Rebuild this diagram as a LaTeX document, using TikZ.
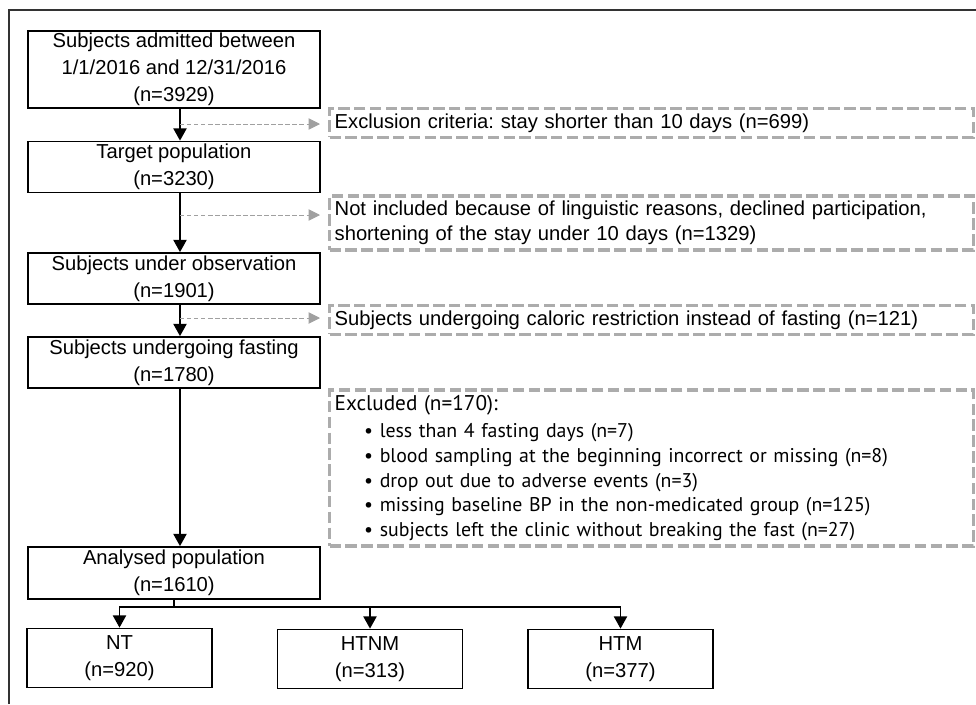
\documentclass[tikz,border=0pt]{standalone}
\usepackage{fontspec}
\setmainfont{Liberation Sans}
\newfontfamily\condfont{PT Sans}
\usetikzlibrary{arrows.meta}
\definecolor{exclgray}{RGB}{172,172,172}
\definecolor{arrgray}{RGB}{160,160,160}
\frenchspacing

\tikzset{
    box/.style={draw, line width=1pt, minimum width=5.84cm, align=center, inner sep=0pt,
        font=\fontsize{11.5}{15.4}\selectfont},
    grp/.style={box, minimum width=3.7cm, minimum height=1.18cm},
    excl/.style={draw=exclgray, line width=1.9pt, dash pattern=on 6.5pt off 2.5pt, anchor=west,
        text width=12.68cm, align=left, inner sep=0.1cm, font=\fontsize{11.5}{14.3}\selectfont},
    arr/.style={line width=1pt, -{Triangle[length=7pt,width=7.5pt]}},
    sidearr/.style={arrgray, line width=0.5pt, dash pattern=on 2.5pt off 1.5pt,
        -{Triangle[length=6.5pt,width=6.5pt]}, shorten >=0.16cm}
}

\begin{document}
\begin{tikzpicture}[x=0.02cm, y=-0.02cm]
        \useasboundingbox (0,0) rectangle (976,704);
        \draw[line width=0.8pt, black!80] (9,704) |- (976,10);

        % main flow
        \node[box, minimum height=1.54cm] (adm) at (174,69.5) {Subjects admitted between\\1/1/2016 and 12/31/2016\\(n=3929)};
        \node[box, minimum height=1.02cm] (tgt) at (174,167) {Target population\\(n=3230)};
        \node[box, minimum height=1.02cm] (obs) at (174,278.5) {Subjects under observation\\(n=1901)};
        \node[box, minimum height=1.02cm] (fst) at (174,362.5) {Subjects undergoing fasting\\(n=1780)};
        \node[box, minimum height=1.04cm] (ana) at (174,573) {Analysed population\\(n=1610)};

        \node[grp] (nt) at (119.5,658) {NT\\(n=920)};
        \node[grp] (htnm) at (370,659) {HTNM\\(n=313)};
        \node[grp] (htm) at (620.5,659) {HTM\\(n=377)};

        % exclusions
        \node[excl, minimum height=0.52cm] (ex1) at (328,123) {Exclusion criteria: stay shorter than 10 days (n=699)};
        \node[excl, minimum height=1.04cm] (ex2) at (328,223) {Not included because of linguistic reasons, declined participation,\\shortening of the stay under 10 days (n=1329)};
        \node[excl, minimum height=0.52cm] (ex3) at (328,320) {Subjects undergoing caloric restriction instead of fasting (n=121)};
        \node[excl, minimum height=3.04cm, font=\condfont\fontsize{11.3}{14.1}\selectfont] (ex4) at (328,468) {{\fontsize{12.1}{14.1}\selectfont Excluded (n=170):}\\[1.5pt]
            \hspace*{0.59cm}\textbullet\ less than 4 fasting days (n=7)\\
            \hspace*{0.59cm}\textbullet\ blood sampling at the beginning incorrect or missing (n=8)\\
            \hspace*{0.59cm}\textbullet\ drop out due to adverse events (n=3)\\
            \hspace*{0.59cm}\textbullet\ missing baseline BP in the non-medicated group (n=125)\\
            \hspace*{0.59cm}\textbullet\ subjects left the clinic without breaking the fast (n=27)};

        \coordinate (sp1) at (180,124);
        \coordinate (sp2) at (180,215);
        \coordinate (sp3) at (180,318);
        \coordinate (fork) at (174,607);

        \draw[arr] (adm.south -| sp1) -- (tgt.north -| sp1);
        \draw[arr] (tgt.south -| sp1) -- (obs.north -| sp1);
        \draw[arr] (obs.south -| sp1) -- (fst.north -| sp1);
        \draw[arr] (fst.south -| sp1) -- (ana.north -| sp1);

        \draw[sidearr] (sp1) -- (sp1 -| ex1.west);
        \draw[sidearr] (sp2) -- (sp2 -| ex2.west);
        \draw[sidearr] (sp3) -- (sp3 -| ex3.west);

        \draw[line width=1pt] (ana.south) -- (fork);
        \draw[arr] (fork) -| (nt.north);
        \draw[arr] (fork) -| (htnm.north);
        \draw[arr] (fork) -| (htm.north);
    \end{tikzpicture}
\end{document}
